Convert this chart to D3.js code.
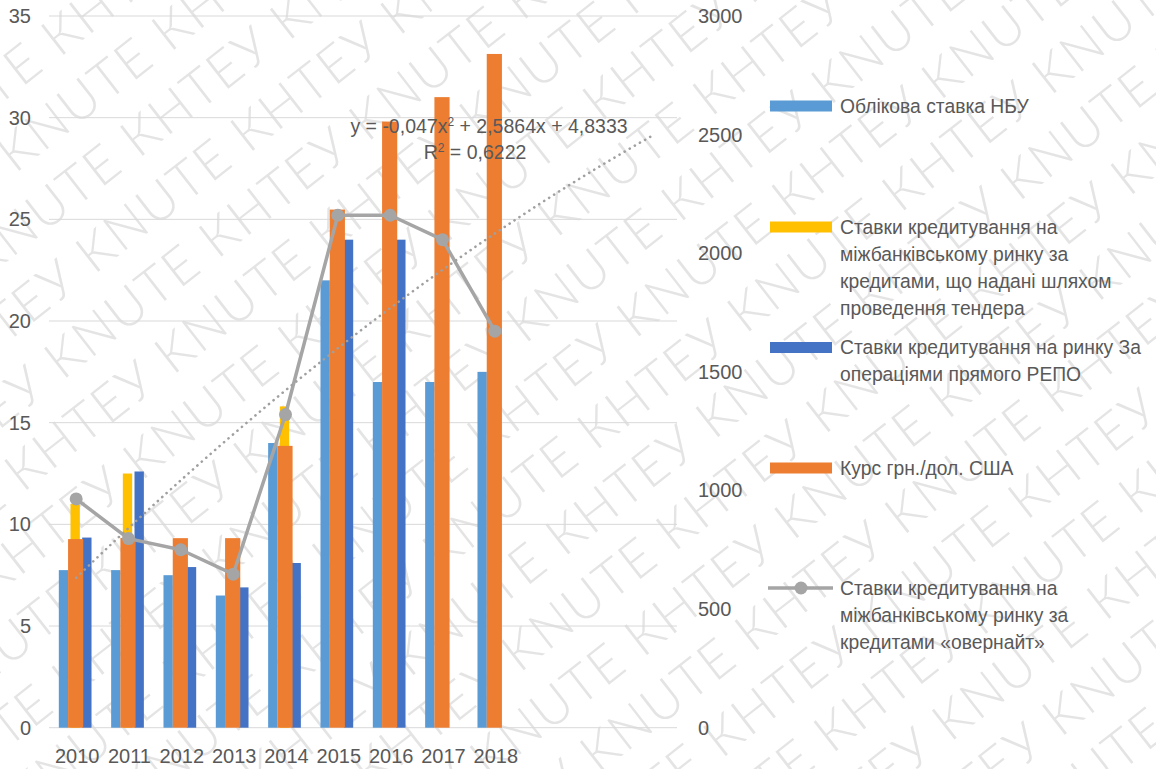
<!DOCTYPE html>
<html>
<head>
<meta charset="utf-8">
<script src="https://cdn.jsdelivr.net/npm/d3@7"></script>
<style>
  body { margin: 0; background: #fff; }
  svg text { font-family: "Liberation Sans", Arial, sans-serif; fill: #595959; }
</style>
</head>
<body>
<svg id="chart" width="1156" height="769"></svg>
<script>
// categories (last three are empty slots used by the trendline forecast)
const years = ["2010", "2011", "2012", "2013", "2014", "2015", "2016", "2017", "2018", "", " ", "  "];
const nbuRate = [7.75, 7.75, 7.5, 6.5, 14, 22, 17, 17, 17.5];
const tenderRate = [11, 12.5, null, null, 15.8, null, null, null, null];
const repoRate = [9.35, 12.6, 7.9, 6.9, 8.1, 24, 24, null, null];
const usdRate = [795, 800, 799, 799, 1188, 2184, 2555, 2658, 2840];   // secondary axis
const overnight = [11.25, 9.3, 8.75, 7.55, 15.4, 25.2, 25.2, 24, 19.5];
const trendCoef = [-0.047, 2.5864, 4.8333];
const leftTicks = [0, 5, 10, 15, 20, 25, 30, 35];
const rightTicks = [0, 500, 1000, 1500, 2000, 2500, 3000];

const colors = {nbu: "#5b9bd5", tender: "#ffc000", repo: "#4472c4", usd: "#ed7d31", line: "#a5a5a5"};

const svg = d3.select("#chart");

// watermark in the background
const wm = svg.append("g").attr("transform", "rotate(-38 578 384)");
d3.range(-9, 11).forEach(function(r) {
  wm.append("text")
    .attr("x", -700 + (r % 2) * 90)
    .attr("y", 384 + r * 64)
    .style("font-family", "Lato, 'Open Sans', sans-serif")
    .style("font-weight", 300)
    .style("font-size", "52px")
    .style("fill", "#e4e4e4")
    .style("letter-spacing", "2px")
    .text(d3.range(14).map(() => "КНТЕУ KNUTE").join(" "));
});

const x = d3.scaleBand().domain(years).range([49, 677]);
const yL = d3.scaleLinear().domain([0, 35]).range([727.7, 16]);
const yR = d3.scaleLinear().domain([0, 3000]).range([727.7, 16]);

const groupW = x.bandwidth() * 0.625;
const inner = d3.scaleBand().domain(["nbu", "tender", "repo"]).range([0, groupW]).paddingInner(0.2);
const usdW = x.bandwidth() * 0.29;

// gridlines
svg.append("g").selectAll("line").data(leftTicks).enter().append("line")
  .attr("x1", 49).attr("x2", 677)
  .attr("y1", d => yL(d)).attr("y2", d => yL(d))
  .attr("stroke", "#d9d9d9").attr("stroke-width", 1);

// axis labels
svg.append("g").selectAll("text").data(leftTicks).enter().append("text")
  .attr("x", 31).attr("y", d => yL(d)).attr("dy", "0.35em")
  .attr("text-anchor", "end").style("font-size", "20px")
  .text(d => d);
svg.append("g").selectAll("text").data(rightTicks).enter().append("text")
  .attr("x", 698).attr("y", d => yR(d)).attr("dy", "0.35em")
  .style("font-size", "20px")
  .text(d => d);
svg.append("g").selectAll("text").data(years.slice(0, 9)).enter().append("text")
  .attr("x", d => x(d) + x.bandwidth() / 2 + 2).attr("y", 756).attr("dy", "0.35em")
  .attr("text-anchor", "middle").style("font-size", "20px")
  .text(d => d);

// primary bars
const groupStart = d => x(d) + (x.bandwidth() - groupW) / 2;
[["nbu", nbuRate], ["tender", tenderRate], ["repo", repoRate]].forEach(function(s) {
  const key = s[0];
  svg.append("g").selectAll("rect")
    .data(s[1].map((v, i) => ({year: years[i], v: v})).filter(d => d.v != null))
    .enter().append("rect")
    .attr("x", d => groupStart(d.year) + inner(key))
    .attr("width", inner.bandwidth())
    .attr("y", d => yL(d.v))
    .attr("height", d => yL(0) - yL(d.v))
    .attr("fill", colors[key]);
});

// secondary bars (exchange rate)
svg.append("g").selectAll("rect")
  .data(usdRate.map((v, i) => ({year: years[i], v: v})))
  .enter().append("rect")
  .attr("x", d => x(d.year) + (x.bandwidth() - usdW) / 2 + 0.5)
  .attr("width", usdW)
  .attr("y", d => yR(d.v))
  .attr("height", d => yR(0) - yR(d.v))
  .attr("fill", colors.usd);

// overnight line
const cx = i => x(years[i]) + x.bandwidth() / 2 + 1;
const line = d3.line().x((d, i) => cx(i)).y(d => yL(d));
svg.append("path").datum(overnight)
  .attr("d", line).attr("fill", "none")
  .attr("stroke", colors.line).attr("stroke-width", 3.5).attr("stroke-linejoin", "round");
svg.append("g").selectAll("circle").data(overnight).enter().append("circle")
  .attr("cx", (d, i) => cx(i)).attr("cy", d => yL(d)).attr("r", 6.5)
  .attr("fill", colors.line);

// polynomial trendline (order 2) from the equation shown on the chart
const step = x.step();
const trendPts = d3.range(1, 12.01, 0.25).map(t => [cx(0) + (t - 1) * step,
  yL(trendCoef[0] * t * t + trendCoef[1] * t + trendCoef[2])]);
svg.append("path").datum(trendPts)
  .attr("d", d3.line()).attr("fill", "none")
  .attr("stroke", "#a0a0a0").attr("stroke-width", 2.6)
  .attr("stroke-dasharray", "0.1 5.8").attr("stroke-linecap", "round");

svg.append("text").attr("x", 489).attr("y", 126).attr("dy", "0.35em")
  .attr("text-anchor", "middle").style("font-size", "19.5px")
  .html("y = -0,047x<tspan dy='-7' font-size='12'>2</tspan><tspan dy='7'> + 2,5864x + 4,8333</tspan>");
svg.append("text").attr("x", 475).attr("y", 152).attr("dy", "0.35em")
  .attr("text-anchor", "middle").style("font-size", "19.5px")
  .html("R<tspan dy='-7' font-size='12'>2</tspan><tspan dy='7'> = 0,6222</tspan>");

// legend
const legendItems = [
  {key: "nbu", y: 106, lines: ["Облікова ставка НБУ"]},
  {key: "tender", y: 227, lines: ["Ставки кредитування на", "міжбанківському ринку за", "кредитами, що надані шляхом", "проведення тендера"]},
  {key: "repo", y: 347.5, lines: ["Ставки кредитування на ринку За", "операціями прямого РЕПО"]},
  {key: "usd", y: 468, lines: ["Курс грн./дол. США"]},
  {key: "line", y: 588, lines: ["Ставки кредитування на", "міжбанківському ринку за", "кредитами «овернайт»"]}
];
const lg = svg.append("g");
legendItems.forEach(function(it) {
  if (it.key === "line") {
    lg.append("line").attr("x1", 768).attr("x2", 833).attr("y1", it.y).attr("y2", it.y)
      .attr("stroke", colors.line).attr("stroke-width", 3.5);
    lg.append("circle").attr("cx", 801).attr("cy", it.y).attr("r", 6.5).attr("fill", colors.line);
  } else {
    lg.append("rect").attr("x", 770).attr("y", it.y - 5.5).attr("width", 62).attr("height", 11)
      .attr("fill", colors[it.key]);
  }
  it.lines.forEach(function(t, j) {
    lg.append("text").attr("x", 840).attr("y", it.y + j * 27).attr("dy", "0.35em")
      .style("font-size", "19.3px").text(t);
  });
});
</script>
</body>
</html>
